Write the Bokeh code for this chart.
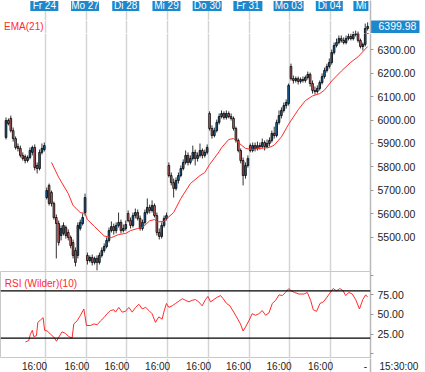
from bokeh.plotting import figure
from bokeh.models import (ColumnDataSource, Range1d, FixedTicker, NumeralTickFormatter,
                          Label, Span, Grid)
from bokeh.core.properties import value
from bokeh.layouts import column
from bokeh.embed import file_html
from bokeh.resources import INLINE

# ---------------- data (30-minute bars, 17 per session) ----------------
opens = [
    5926, 5998, 6007, 5955, 5921, 5887, 5879, 5849, 5844, 5827, 5840, 5862, 5883, 5806, 5793, 5862, 5874,
    5669, 5721, 5691, 5644, 5584, 5558, 5507, 5516, 5541, 5520, 5499, 5477, 5443, 5422, 5537, 5558, 5605,
    5422, 5400, 5413, 5392, 5409, 5392, 5422, 5443, 5460, 5486, 5528, 5545, 5528, 5550, 5563, 5528, 5537,
    5601, 5571, 5550, 5592, 5605, 5580, 5537, 5563, 5605, 5627, 5614, 5635, 5592, 5520, 5503, 5550, 5580,
    5806, 5763, 5733, 5708, 5742, 5763, 5793, 5819, 5849, 5819, 5836, 5862, 5836, 5849, 5870, 5849, 5862,
    6028, 5964, 5934, 5955, 5990, 6015, 6028, 6011, 6028, 6015, 6007, 5964, 5913, 5870, 5827, 5763, 5806,
    5891, 5870, 5891, 5879, 5891, 5887, 5904, 5887, 5900, 5913, 5943, 5934, 5990, 6019, 6041, 6062, 6071,
    6229, 6177, 6169, 6177, 6165, 6173, 6169, 6182, 6195, 6156, 6126, 6122, 6135, 6160, 6186, 6212, 6229,
    6246, 6288, 6318, 6331, 6348, 6340, 6331, 6348, 6357, 6348, 6365, 6370, 6340, 6314, 6323, 6391]
highs = [
    6011, 6007, 6019, 5968, 5930, 5900, 5891, 5862, 5853, 5849, 5883, 5891, 5896, 5819, 5874, 5900, 5904,
    5712, 5729, 5699, 5652, 5597, 5571, 5550, 5563, 5550, 5533, 5507, 5490, 5456, 5563, 5575, 5601, 5686,
    5434, 5422, 5426, 5417, 5422, 5434, 5456, 5473, 5499, 5541, 5567, 5558, 5563, 5605, 5575, 5554, 5571,
    5614, 5584, 5605, 5622, 5618, 5592, 5575, 5618, 5665, 5639, 5657, 5644, 5605, 5537, 5563, 5592, 5605,
    5819, 5776, 5750, 5755, 5776, 5806, 5832, 5870, 5862, 5849, 5891, 5874, 5862, 5900, 5879, 5874, 5896,
    6037, 5977, 5968, 6002, 6028, 6041, 6037, 6041, 6037, 6028, 6015, 5972, 5921, 5879, 5840, 5819, 5849,
    5900, 5904, 5904, 5908, 5904, 5921, 5913, 5917, 5926, 5955, 5972, 6002, 6041, 6054, 6075, 6088, 6156,
    6241, 6190, 6186, 6186, 6182, 6186, 6190, 6207, 6203, 6169, 6143, 6148, 6169, 6199, 6224, 6241, 6263,
    6301, 6331, 6348, 6361, 6361, 6353, 6361, 6370, 6370, 6378, 6382, 6378, 6348, 6331, 6412, 6417]
lows = [
    5917, 5977, 5947, 5908, 5874, 5866, 5840, 5827, 5815, 5819, 5832, 5849, 5785, 5772, 5785, 5853, 5866,
    5661, 5635, 5631, 5575, 5409, 5464, 5486, 5507, 5494, 5486, 5452, 5409, 5375, 5409, 5528, 5550, 5592,
    5383, 5392, 5379, 5383, 5358, 5383, 5413, 5434, 5452, 5477, 5520, 5511, 5516, 5541, 5516, 5520, 5528,
    5563, 5537, 5541, 5580, 5571, 5528, 5528, 5554, 5597, 5601, 5605, 5584, 5507, 5490, 5494, 5541, 5571,
    5755, 5721, 5669, 5699, 5729, 5755, 5785, 5810, 5806, 5810, 5827, 5806, 5823, 5840, 5836, 5840, 5853,
    5955, 5921, 5926, 5947, 5981, 6007, 6002, 6002, 6007, 5998, 5955, 5904, 5862, 5815, 5721, 5750, 5797,
    5862, 5862, 5866, 5870, 5874, 5879, 5870, 5879, 5887, 5904, 5921, 5926, 5981, 6007, 6032, 6049, 6062,
    6169, 6156, 6160, 6152, 6156, 6160, 6160, 6173, 6143, 6113, 6109, 6113, 6126, 6152, 6177, 6203, 6220,
    6237, 6280, 6310, 6323, 6331, 6323, 6323, 6340, 6340, 6340, 6357, 6331, 6306, 6297, 6314, 6382]
closes = [
    5998, 5985, 5955, 5921, 5883, 5879, 5849, 5836, 5827, 5840, 5870, 5883, 5797, 5793, 5862, 5879, 5891,
    5699, 5644, 5644, 5584, 5558, 5477, 5537, 5550, 5507, 5499, 5464, 5422, 5392, 5550, 5563, 5584, 5669,
    5400, 5413, 5392, 5409, 5392, 5422, 5443, 5460, 5486, 5528, 5545, 5528, 5550, 5563, 5528, 5537, 5554,
    5571, 5550, 5592, 5605, 5580, 5537, 5563, 5605, 5627, 5614, 5635, 5592, 5520, 5503, 5550, 5580, 5592,
    5763, 5733, 5708, 5742, 5763, 5793, 5819, 5849, 5819, 5836, 5862, 5836, 5849, 5870, 5849, 5862, 5883,
    5964, 5934, 5955, 5990, 6015, 6028, 6011, 6028, 6015, 6007, 5964, 5913, 5870, 5827, 5763, 5806, 5836,
    5870, 5891, 5879, 5891, 5887, 5904, 5887, 5900, 5913, 5943, 5934, 5990, 6019, 6041, 6062, 6075, 6148,
    6177, 6169, 6177, 6165, 6173, 6169, 6182, 6195, 6156, 6126, 6122, 6135, 6160, 6186, 6212, 6229, 6246,
    6288, 6318, 6331, 6348, 6340, 6331, 6348, 6357, 6348, 6365, 6370, 6340, 6314, 6323, 6391, 6399.98]

# EMA(21) (bar index, value)
ema_idx = [19, 22, 26, 28, 31, 33, 34, 37, 41, 44, 47, 50, 52, 55, 57, 60, 62, 63, 66, 67, 70, 73,
           77, 81, 83, 85, 89, 90, 93, 95, 97, 100, 103, 106, 110, 112, 115, 118, 122, 125, 128,
           131, 133, 136, 140, 144, 147, 151]
ema_val = [5819, 5755, 5686, 5635, 5605, 5601, 5575, 5545, 5505, 5498, 5511, 5516, 5528, 5537, 5541,
           5570, 5575, 5565, 5567, 5578, 5605, 5665, 5729, 5763, 5776, 5810, 5865, 5882, 5917, 5921,
           5904, 5879, 5874, 5879, 5883, 5893, 5928, 5982, 6044, 6083, 6103, 6113, 6128, 6167, 6209,
           6247, 6270, 6314]

# RSI (Wilder)(10) (bar position, value)
rsi_idx = [8.1, 9.5, 10.2, 11.0, 11.6, 12.7, 13.3, 14.4, 15.5, 16.1, 17.2, 18.6, 20.0, 21.1, 22.0,
           23.4, 24.8, 26.2, 27.6, 28.3, 29.7, 31.1, 32.5, 33.6, 35.3, 36.7, 38.1, 39.5, 40.9, 42.2,
           43.6, 45.0, 45.7, 47.1, 48.5, 49.9, 51.3, 52.7, 54.1, 55.5, 56.9, 58.3, 59.7, 61.0, 62.4,
           63.8, 65.2, 65.9, 67.0, 68.0, 69.4, 70.8, 72.2, 73.6, 75.0, 76.4, 77.7, 79.1, 80.5, 81.9,
           83.3, 84.3, 85.4, 86.8, 88.2, 89.6, 90.7, 92.1, 93.5, 95.1, 96.8, 97.9, 99.0, 100.0, 101.4,
           102.8, 104.2, 105.6, 107.0, 108.4, 109.8, 111.2, 112.6, 114.0, 115.4, 116.7, 118.1, 119.1,
           120.5, 122.3, 124.4, 125.8, 127.2, 128.3, 129.7, 131.1, 132.5, 133.8, 135.2, 136.6, 138.0,
           139.4, 140.8, 141.8, 143.2, 144.6, 146.0, 147.6, 149.0, 150.2, 151.0]
rsi_val = [15, 17, 25, 30, 22, 23, 40, 43, 46, 30, 29, 25, 21, 16, 21,
           28, 26, 22, 20, 38, 42, 49, 57, 36, 36, 38, 37, 42, 46, 51,
           55, 56, 53, 59, 53, 54, 59, 53, 59, 63, 57, 59, 55, 51, 40,
           47, 44, 53, 64, 59, 61, 64, 67, 70, 68, 66, 68, 69, 66, 61,
           69, 73, 66, 69, 72, 74, 70, 64, 61, 53, 44, 38, 29, 34, 42,
           51, 49, 51, 55, 49, 52, 64, 68, 75, 74, 78, 83, 80,
           78, 76, 76, 78, 68, 56, 54, 64, 66, 71, 77, 83, 80,
           83, 80, 74, 78, 76, 69, 57, 69, 75, 72]
rsi_levels = [80, 20]

day_names = ["Fr 24", "Mo 27", "Di 28", "Mi 29", "Do 30", "Fr 31", "Mo 03", "Di 04", "Mi"]
day_label_pos = [16, 33, 50, 67, 84, 101, 118, 135, 148.2]
day_tag_width = [28, 28, 27, 28, 29, 29, 30, 27, 15]
day_bounds = [16.5, 33.5, 50.5, 67.5, 84.5, 101.5, 118.5, 135.5]
time_tick_pos = [11.9, 29.6, 46.3, 63.3, 80.4, 97.1, 114.0, 131.3, 150.1]
time_tick_labels = ["16:00"] * 8 + ["-"]
last_time = "15:30:00"
price_ticks = [5500, 5600, 5700, 5800, 5900, 6000, 6100, 6200, 6300]
rsi_ticks = [0, 25, 50, 75, 100]
last_price = closes[-1]

# ---------------- styling / layout ----------------
FONT = "Liberation Sans"
UP, DOWN = "#1f6aa5", "#cf6b6b"
TAG = "#1e88cc"
GRIDC = "#d4d4d4"
AXLINE = "#b8b8b8"
TXT = "#222222"
RED = "#ff2b2b"

W, AXIS_W = 425, 55
x_rng = Range1d(-2.3, 152.2)
P_TOP, P_HDR, P_TAG, P_BOT = 6510.5, 6425.1, 6369.6, 5353.3

idx = list(range(len(closes)))
src = ColumnDataSource(dict(
    x=idx, high=highs, low=lows,
    top=[max(o, c) for o, c in zip(opens, closes)],
    bottom=[min(o, c) for o, c in zip(opens, closes)],
    color=[UP if c >= o else DOWN for o, c in zip(opens, closes)]))


def make_fig(height, y_rng, outline=None):
    f = figure(width=W, height=height, x_range=x_rng, y_range=y_rng,
               output_backend="svg", toolbar_location=None,
               x_axis_location=None, y_axis_location="right",
               min_border_left=0, min_border_right=AXIS_W, min_border_top=0,
               min_border_bottom=0, outline_line_color=outline,
               background_fill_color="white", border_fill_color="white")
    f.grid.visible = False
    f.add_layout(Grid(dimension=0, ticker=FixedTicker(ticks=day_bounds),
                      grid_line_color=GRIDC, grid_line_width=1.5))
    ax = f.yaxis[0]
    ax.axis_line_color = AXLINE
    ax.axis_line_width = 1.5
    ax.minor_tick_line_color = None
    ax.major_tick_in = 0
    ax.major_label_text_font = FONT
    ax.major_label_text_font_size = "10.5px"
    ax.major_label_text_color = TXT
    ax.formatter = NumeralTickFormatter(format="0.00")
    ax.ticker = FixedTicker(ticks=[])
    return f


def add_candles(fig):
    fig.segment(x0="x", y0="low", x1="x", y1="high", source=src, line_color="#333333", line_width=1)
    fig.vbar(x="x", width=0.7, top="top", bottom="bottom", fill_color="color",
             line_color="black", line_width=0.8, source=src)


def style_ticks(ax, ticks):
    ax.ticker = FixedTicker(ticks=ticks)
    ax.major_tick_out = 3
    ax.major_tick_line_color = "#999999"
    ax.major_label_standoff = 4


# --- header strip with the session tags
hdr = make_fig(20, Range1d(P_HDR, P_TOP))
day_src = ColumnDataSource(dict(x=day_label_pos, y=[6487.4] * len(day_names),
                                w=day_tag_width, text=day_names))
hdr.rect(x="x", y="y", width="w", height=10, width_units="screen", height_units="screen",
         fill_color=TAG, line_color=None, source=day_src)
hdr.text(x="x", y="y", text="text", source=day_src, text_color="white",
         text_font=value(FONT), text_font_size="10px", text_align="center",
         text_baseline="middle")

# --- strip holding the last-price tag on its axis
tag = make_fig(13, Range1d(P_TAG, P_HDR))
add_candles(tag)
tag.add_layout(Label(x=-0.8, y=6399.5, text="EMA(21)", text_color=RED, text_font=FONT,
                     text_font_size="10px", text_baseline="middle", text_align="left"))
tax = tag.yaxis[0]
tax.ticker = FixedTicker(ticks=[last_price])
tax.major_tick_out = 0
tax.major_label_standoff = 8
if "background_fill_color" in tax.properties():
    tax.background_fill_color = TAG
    tax.major_label_text_color = "white"
else:
    tax.major_label_text_color = TAG

# --- price panel
main = make_fig(238, Range1d(P_BOT, P_TAG))
style_ticks(main.yaxis[0], price_ticks)
add_candles(main)
main.line(ema_idx, ema_val, line_color=RED, line_width=1)

# --- RSI panel
rsi = make_fig(87, Range1d(-5.9, 104.6), outline="#c8c8c8")
style_ticks(rsi.yaxis[0], rsi_ticks)
rsi.yaxis[0].major_label_overrides = {0: "", 100: ""}
for lvl in rsi_levels:
    rsi.add_layout(Span(location=lvl, dimension="width", line_color="black", line_width=1.2))
rsi.line(rsi_idx, rsi_val, line_color=RED, line_width=1)
rsi.add_layout(Label(x=-0.5, y=89, text="RSI (Wilder)(10)", text_color=RED, text_font=FONT,
                     text_font_size="10px", text_baseline="middle", text_align="left"))

# --- time strip: session times, last bar time on its axis
bot = make_fig(14, Range1d(0, 1))
bot_src = ColumnDataSource(dict(x=time_tick_pos, y=[0.45] * len(time_tick_pos),
                                text=time_tick_labels))
bot.text(x="x", y="y", text="text", source=bot_src, text_font=value(FONT),
         text_font_size="10px", text_color=TXT, text_align="center", text_baseline="middle")
bax = bot.yaxis[0]
bax.ticker = FixedTicker(ticks=[0.45])
bax.major_label_overrides = {0.45: last_time}
bax.major_tick_out = 0
bax.major_label_standoff = 9
bax.major_label_text_font_size = "10px"

layout = column(hdr, tag, main, rsi, bot, spacing=0)
open("out.html", "w").write(file_html(layout, INLINE))
